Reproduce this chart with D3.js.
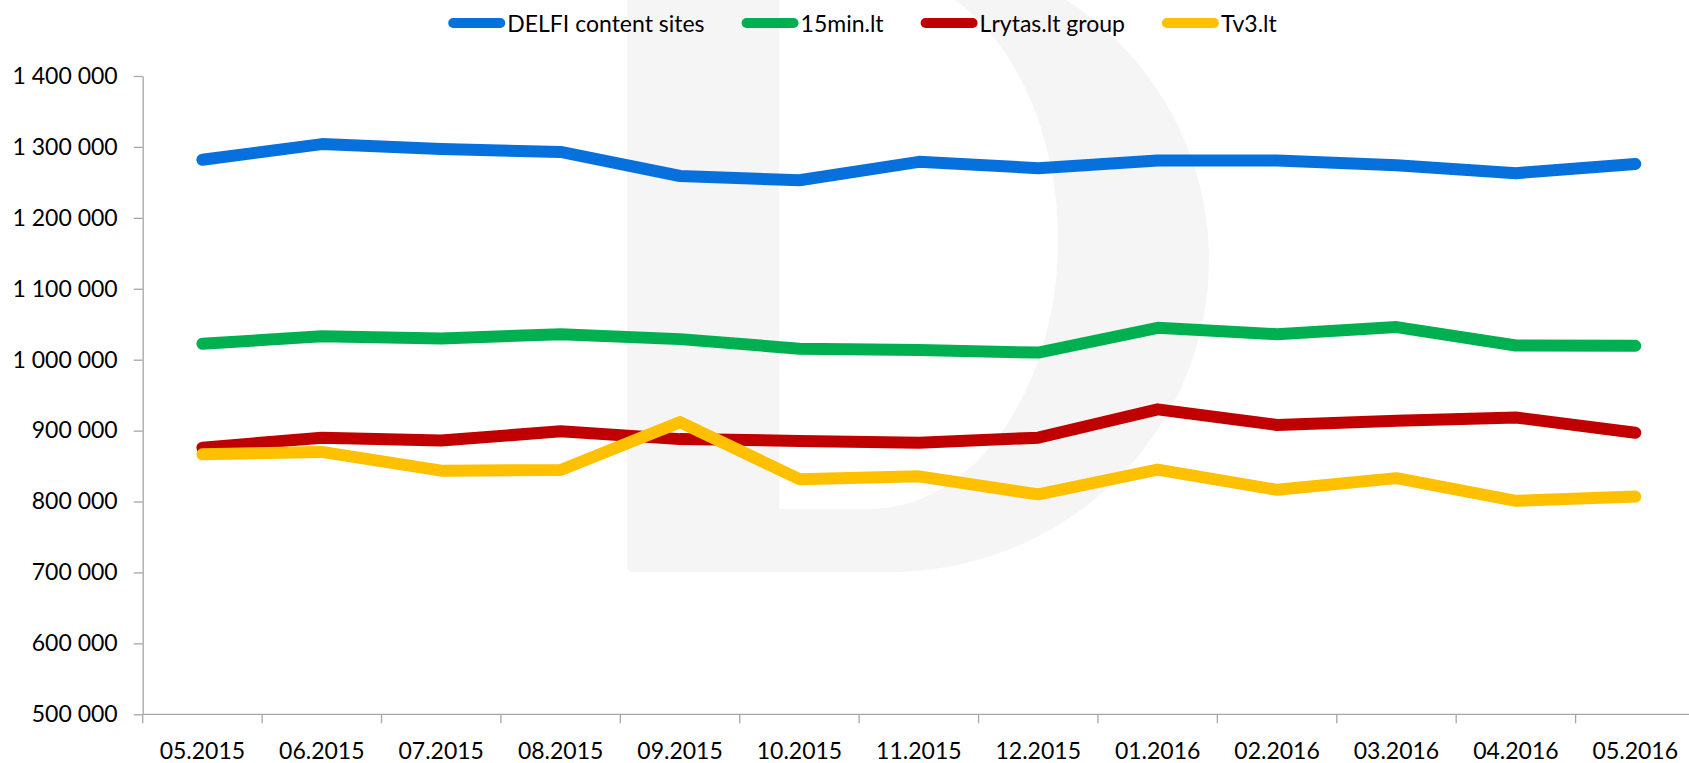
<!DOCTYPE html>
<html>
<head>
<meta charset="utf-8">
<script src="https://cdn.jsdelivr.net/npm/d3@7"></script>
<style>
  html, body { margin: 0; padding: 0; background: #ffffff; }
  svg { display: block; }
  text { font-family: Lato, "Open Sans", sans-serif; fill: #000; }
</style>
</head>
<body>
<svg id="chart" width="1689" height="763"></svg>
<script>
// ---- data ----
const months = ["05.2015","06.2015","07.2015","08.2015","09.2015","10.2015","11.2015","12.2015","01.2016","02.2016","03.2016","04.2016","05.2016"];
const seriesNames = ["DELFI content sites","15min.lt","Lrytas.lt group","Tv3.lt"];
const delfi  = [1282000,1304000,1297000,1293000,1259000,1253000,1279000,1270000,1281000,1281000,1274000,1263000,1276000];
const min15  = [1022500,1033000,1030000,1036000,1029000,1015500,1013500,1010000,1045000,1036000,1046000,1020000,1019500];
const lrytas = [876000,890000,886000,899000,888000,885500,883000,890000,930000,908000,914000,918500,897000];
const tv3    = [866500,870000,843500,844500,912000,831500,835500,810000,845000,816500,833000,801000,807000];
const yTicks = [500000,600000,700000,800000,900000,1000000,1100000,1200000,1300000,1400000];
const colors = ["#0671dc","#00b050","#c00000","#ffc000"];

const svg = d3.select("#chart");
const W = 1689, H = 763;

// ---- watermark "D" ----
svg.append("path")
  .attr("d", "M627,-60 L627,566 Q627,572 633,572 L890,572 A319,312 0 0 0 890,-52 L890,-60 Z " +
             "M779,-60 L779,509 L870,509 A188,269 0 0 0 870,-29 L870,-60 Z")
  .attr("fill", "#f5f5f5")
  .attr("fill-rule", "evenodd");

// ---- scales ----
const x = d3.scaleBand().domain(months).range([142.7, 1695]).paddingInner(0).paddingOuter(0);
const y = d3.scaleLinear().domain([500000, 1400000]).range([714.3, 76]);
const cx = m => x(m) + x.bandwidth() / 2;

const loc = d3.formatLocale({decimal: ",", thousands: " ", grouping: [3], currency: ["", ""]});
const fmt = loc.format(",d");

// ---- y axis ----
const yAxis = svg.append("g").attr("transform", "translate(142.7,0)")
  .call(d3.axisLeft(y).tickValues(yTicks).tickFormat(fmt).tickSize(9).tickSizeOuter(0).tickPadding(16));
yAxis.select(".domain").attr("stroke", "#a6a6a6").attr("stroke-width", 1.3);
yAxis.selectAll(".tick line").attr("stroke", "#a6a6a6").attr("stroke-width", 1.3);
yAxis.selectAll(".tick text").attr("font-family", "Lato, sans-serif").attr("font-size", 23).attr("fill", "#000");

// ---- x axis ----
const xg = svg.append("g");
xg.append("line")
  .attr("x1", x.range()[0]).attr("x2", x.range()[1])
  .attr("y1", y(500000)).attr("y2", y(500000))
  .attr("stroke", "#a6a6a6").attr("stroke-width", 1.3);
xg.selectAll("line.tk").data(months).enter().append("line")
  .attr("class", "tk")
  .attr("x1", d => x(d)).attr("x2", d => x(d))
  .attr("y1", y(500000)).attr("y2", y(500000) + 9)
  .attr("stroke", "#a6a6a6").attr("stroke-width", 1.3);
xg.selectAll("text").data(months).enter().append("text")
  .attr("x", d => cx(d)).attr("y", 750)
  .attr("text-anchor", "middle").attr("dominant-baseline", "central")
  .attr("font-size", 23)
  .text(d => d);

// ---- lines ----
const allSeries = [delfi, min15, lrytas, tv3];
const line = d3.line().x((d, i) => cx(months[i])).y(d => y(d));
allSeries.forEach((s, k) => {
  svg.append("path")
    .datum(s)
    .attr("d", line)
    .attr("fill", "none")
    .attr("stroke", colors[k])
    .attr("stroke-width", 12)
    .attr("stroke-linejoin", "round")
    .attr("stroke-linecap", "round");
});

// ---- legend ----
const lg = svg.append("g");
const items = seriesNames.map((n, k) => {
  const g = lg.append("g");
  g.append("line").attr("x1", 5).attr("x2", 52).attr("y1", 0).attr("y2", 0)
    .attr("stroke", colors[k]).attr("stroke-width", 10).attr("stroke-linecap", "round");
  const t = g.append("text").attr("x", 59).attr("y", 0).attr("dominant-baseline", "central")
    .attr("font-size", 23).text(n);
  return {g, w: 59 + t.node().getComputedTextLength()};
});
const gap = 37;
const total = d3.sum(items, d => d.w) + gap * (items.length - 1);
let pos = 862.5 - total / 2;
items.forEach(it => {
  it.g.attr("transform", `translate(${pos},23)`);
  pos += it.w + gap;
});
</script>
</body>
</html>
